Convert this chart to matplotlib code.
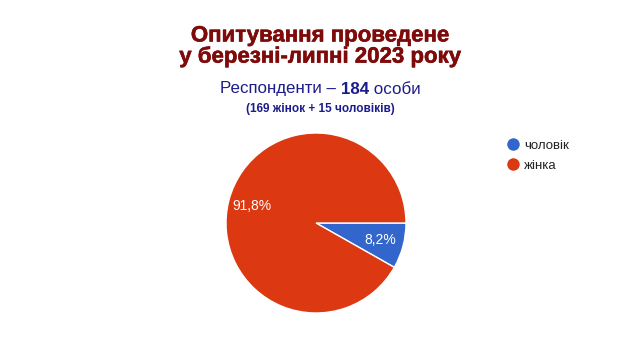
import matplotlib
matplotlib.use("Agg")
import matplotlib.pyplot as plt
from matplotlib.lines import Line2D
import matplotlib.patheffects as pe
from matplotlib.offsetbox import TextArea, HPacker, AnchoredOffsetbox

plt.rcParams['font.family'] = ['Liberation Sans', 'DejaVu Sans']

categories = ["чоловік", "жінка"]
values = [8.2, 91.8]
colors = ["#3366CC", "#DC3912"]

title_lines = ["Опитування проведене", "у березні-липні 2023 року"]
subtitle_pre = "Респонденти – "
subtitle_num = "184"
subtitle_post = " особи"
note = "(169 жінок + 15 чоловіків)"

fig = plt.figure(figsize=(6.4, 3.6), dpi=100)
fig.patch.set_facecolor("white")

title_color = "#7E0A0A"
navy = "#1C1C8C"
thick = [pe.Stroke(linewidth=0.4, foreground=title_color), pe.Normal()]
fig.text(0.5, 1 - 36/360, title_lines[0], ha="center", va="center",
         fontsize=16, fontweight="bold", color=title_color, path_effects=thick)
fig.text(0.5, 1 - 57/360, title_lines[1], ha="center", va="center",
         fontsize=16, fontweight="bold", color=title_color, path_effects=thick)

t1 = TextArea(subtitle_pre, textprops=dict(color=navy, fontsize=12.2))
t2 = TextArea(subtitle_num, textprops=dict(color=navy, fontsize=12.2, fontweight="bold"))
t3 = TextArea(subtitle_post, textprops=dict(color=navy, fontsize=12.2))
box = HPacker(children=[t1, t2, t3], align="baseline", pad=0, sep=0)
ab = AnchoredOffsetbox(loc="center", child=box, frameon=False,
                       bbox_to_anchor=(0.5, 1 - 89/360), bbox_transform=fig.transFigure,
                       pad=0, borderpad=0)
fig.add_artist(ab)

fig.text(0.5, 1 - 109/360, note, ha="center", va="center",
         fontsize=8.5, fontweight="bold", color=navy)

cx, cy, r = 316/640, 1 - 223/360, 90
ax = fig.add_axes([cx - r/640, cy - r/360, 2*r/640, 2*r/360])
wedges, texts, autotexts = ax.pie(values, colors=colors, startangle=0, counterclock=False,
       autopct=lambda p: f"{p:.1f}%".replace(".", ","), pctdistance=0.74,
       wedgeprops=dict(edgecolor="white", linewidth=1),
       textprops=dict(color="white", fontsize=10))
ax.set_xlim(-1, 1)
ax.set_ylim(-1, 1)
ax.set_aspect("equal")
ax.axis("off")

handles = [Line2D([0], [0], marker="o", color="w", markerfacecolor=c, markersize=10)
           for c in colors]
fig.legend(handles, categories, loc="upper left", bbox_to_anchor=(495/640, 1 - 128/360),
           frameon=False, fontsize=9.5, handlelength=1, handletextpad=0.3,
           labelspacing=0.55, labelcolor="#222222")

fig.savefig("out.png", dpi=100)
